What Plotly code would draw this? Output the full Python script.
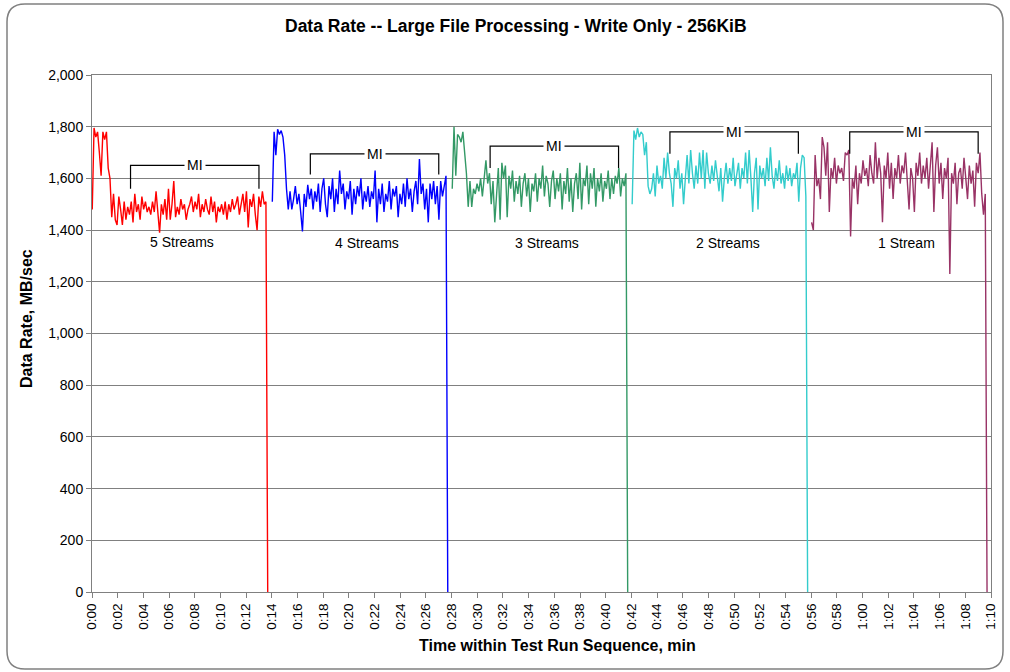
import plotly.graph_objects as go

# ---------------- data ----------------
TICK_LABELS = ["0:%02d" % m for m in range(0, 60, 2)] + ["1:%02d" % m for m in range(0, 12, 2)]
TICK_VALUES = list(range(0, 72, 2))

SERIES_NAMES = ["5 Streams", "4 Streams", "3 Streams", "2 Streams", "1 Stream"]
SERIES_COLORS = ["#FF0000", "#0000FF", "#339966", "#33CCCC", "#993366"]
SERIES_START = [0.02, 14.04, 28.05, 42.06, 56.03]   # minutes
SAMPLE_STEP = 0.138                                 # minutes between samples

rate_5 = [1480, 1795, 1760, 1780, 1700, 1610, 1780, 1750, 1780, 1640,
          1600, 1450, 1540, 1440, 1420, 1530, 1480, 1420, 1510, 1440,
          1490, 1460, 1510, 1430, 1540, 1470, 1500, 1440, 1530, 1480,
          1510, 1470, 1490, 1460, 1510, 1470, 1550, 1450, 1390, 1500,
          1460, 1520, 1440, 1560, 1440, 1500, 1590, 1450, 1490, 1460,
          1520, 1480, 1500, 1440, 1480, 1500, 1530, 1470, 1510, 1480,
          1540, 1450, 1500, 1470, 1520, 1480, 1460, 1530, 1470, 1510,
          1430, 1490, 1470, 1500, 1460, 1510, 1440, 1500, 1470, 1520,
          1480, 1500, 1530, 1460, 1510, 1540, 1470, 1550, 1410, 1520,
          1490, 1540, 1460, 1400, 1530, 1490, 1550, 1500, 1510, 0]

rate_4 = [1510, 1780, 1690, 1790, 1770, 1785, 1760, 1690, 1560, 1480,
          1550, 1480, 1520, 1570, 1500, 1540, 1470, 1395, 1540, 1490,
          1575, 1520, 1560, 1480, 1550, 1510, 1580, 1470, 1560, 1600,
          1500, 1450, 1570, 1520, 1600, 1470, 1560, 1500, 1630, 1540,
          1580, 1480, 1550, 1520, 1590, 1460, 1560, 1500, 1570, 1530,
          1600, 1480, 1550, 1510, 1570, 1490, 1550, 1520, 1630, 1430,
          1560, 1500, 1580, 1470, 1540, 1510, 1590, 1480, 1560, 1530,
          1570, 1450, 1540, 1500, 1580, 1490, 1600, 1520, 1560, 1470,
          1550, 1590, 1500, 1675, 1540, 1580, 1480, 1560, 1430, 1580,
          1520, 1590, 1500, 1570, 1440, 1590, 1530, 1570, 1610, 0]

rate_3 = [1560, 1800, 1610, 1770, 1760, 1740, 1780, 1700, 1620, 1490,
          1590, 1490, 1560, 1540, 1580, 1550, 1600, 1530, 1590, 1670,
          1580, 1620, 1500, 1590, 1430, 1550, 1640, 1440, 1660, 1600,
          1650, 1450, 1610, 1560, 1630, 1510, 1590, 1540, 1610, 1490,
          1580, 1620, 1530, 1600, 1470, 1580, 1550, 1620, 1510, 1600,
          1560, 1650, 1530, 1610, 1580, 1490, 1590, 1630, 1520, 1600,
          1550, 1620, 1480, 1590, 1540, 1640, 1510, 1600, 1470, 1580,
          1620, 1520, 1660, 1480, 1600, 1570, 1650, 1500, 1620, 1560,
          1640, 1490, 1600, 1550, 1620, 1510, 1590, 1560, 1630, 1520,
          1600, 1540, 1610, 1580, 1640, 1530, 1600, 1570, 1620, 0]

rate_2 = [1500, 1785, 1750, 1795, 1760, 1780, 1770, 1690, 1740, 1570,
          1540, 1560, 1620, 1530, 1650, 1580, 1610, 1560, 1680, 1600,
          1700, 1620, 1580, 1490, 1640, 1600, 1670, 1560, 1620, 1500,
          1600, 1690, 1580, 1710, 1620, 1560, 1650, 1580, 1700, 1600,
          1710, 1560, 1700, 1620, 1580, 1650, 1590, 1670, 1610, 1550,
          1640, 1510, 1600, 1660, 1580, 1640, 1590, 1680, 1570, 1620,
          1660, 1560, 1640, 1600, 1700, 1580, 1710, 1600, 1470, 1620,
          1680, 1480, 1650, 1600, 1640, 1570, 1680, 1590, 1720, 1610,
          1560, 1640, 1590, 1670, 1580, 1620, 1560, 1650, 1590, 1640,
          1570, 1620, 1600, 1660, 1510, 1640, 1690, 1680, 1530, 0]

rate_1 = [1430, 1400, 1690, 1570, 1600, 1520, 1760, 1720, 1610, 1740,
          1470, 1640, 1600, 1680, 1580, 1650, 1620, 1640, 1590, 1700,
          1690, 1710, 1375, 1600, 1560, 1650, 1500, 1620, 1580, 1670,
          1610, 1640, 1570, 1690, 1620, 1580, 1740, 1600, 1680, 1620,
          1430, 1650, 1600, 1700, 1560, 1660, 1520, 1640, 1600, 1690,
          1580, 1650, 1620, 1700, 1590, 1480, 1640, 1600, 1470, 1660,
          1610, 1700, 1580, 1650, 1600, 1680, 1560, 1640, 1740, 1470,
          1650, 1720, 1580, 1660, 1520, 1640, 1600, 1680, 1230, 1620,
          1580, 1660, 1500, 1620, 1640, 1560, 1680, 1600, 1520, 1650,
          1580, 1630, 1490, 1660, 1620, 1700, 1540, 1460, 1540, 0]

SERIES_VALUES = [rate_5, rate_4, rate_3, rate_2, rate_1]

# Measurement-interval (MI) brackets, per series
MI_START = [3.0, 17.0, 31.0, 45.0, 59.0]
MI_END = [13.0, 27.0, 41.0, 55.0, 69.0]
MI_LEVEL = [1650, 1695, 1725, 1780, 1780]
MI_FOOT = [1560, 1615, 1640, 1695, 1695]

LABEL_X = [7.0, 21.4, 35.4, 49.5, 63.4]
LABEL_Y = [1355, 1352, 1352, 1352, 1350]

FONT = "Liberation Sans, Arial, sans-serif"

# ---------------- figure ----------------
W, H = 1010, 672
L, R, T, B = 92, 991, 75, 592

fig = go.Figure()

for name, color, start, vals in zip(SERIES_NAMES, SERIES_COLORS, SERIES_START, SERIES_VALUES):
    times = [start + i * SAMPLE_STEP for i in range(len(vals))]
    fig.add_trace(go.Scatter(x=times, y=vals, mode="lines", name=name,
                             line=dict(color=color, width=1.4), showlegend=False,
                             hoverinfo="skip"))

# MI brackets
for s, e, lev, foot in zip(MI_START, MI_END, MI_LEVEL, MI_FOOT):
    fig.add_trace(go.Scatter(x=[s, s, e, e], y=[foot, lev, lev, foot], mode="lines",
                             line=dict(color="#000000", width=1.2), showlegend=False,
                             hoverinfo="skip"))
    fig.add_annotation(x=(s + e) / 2, y=lev, text="MI", showarrow=False,
                       xanchor="center", yanchor="middle",
                       font=dict(family=FONT, size=14, color="#000000"),
                       bgcolor="white", borderpad=2, xref="x", yref="y")

for name, lx, ly in zip(SERIES_NAMES, LABEL_X, LABEL_Y):
    fig.add_annotation(x=lx, y=ly, text=name, showarrow=False,
                       xanchor="center", yanchor="middle",
                       font=dict(family=FONT, size=14, color="#000000"))

def px(x):
    return (x - L) / (R - L)

def py(y):
    return (B - y) / (B - T)

# rounded outer border
x0, y0, x1, y1, r = 7, 4, 1003, 669, 18
path = (f"M {px(x0 + r)},{py(y0)} L {px(x1 - r)},{py(y0)} "
        f"Q {px(x1)},{py(y0)} {px(x1)},{py(y0 + r)} L {px(x1)},{py(y1 - r)} "
        f"Q {px(x1)},{py(y1)} {px(x1 - r)},{py(y1)} L {px(x0 + r)},{py(y1)} "
        f"Q {px(x0)},{py(y1)} {px(x0)},{py(y1 - r)} L {px(x0)},{py(y0 + r)} "
        f"Q {px(x0)},{py(y0)} {px(x0 + r)},{py(y0)} Z")
fig.add_shape(type="path", path=path, xref="paper", yref="paper",
              line=dict(color="#808080", width=1.5), layer="below")

# titles
fig.add_annotation(x=px(516), y=py(26), xref="paper", yref="paper",
                   xanchor="center", yanchor="middle",
                   text="<b>Data Rate -- Large File Processing - Write Only - 256KiB</b>",
                   showarrow=False, font=dict(family=FONT, size=17.5, color="#000000"))
fig.add_annotation(x=px(557), y=py(645), xref="paper", yref="paper",
                   xanchor="center", yanchor="middle",
                   text="<b>Time within Test Run Sequence, min</b>",
                   showarrow=False, font=dict(family=FONT, size=16, color="#000000"))
fig.add_annotation(x=px(26), y=py(319), xref="paper", yref="paper", textangle=-90,
                   xanchor="center", yanchor="middle",
                   text="<b>Data Rate, MB/sec</b>",
                   showarrow=False, font=dict(family=FONT, size=16, color="#000000"))

fig.update_layout(
    width=W, height=H,
    margin=dict(l=L, r=W - R, t=T, b=H - B, pad=0),
    paper_bgcolor="white", plot_bgcolor="white",
    font=dict(family=FONT, size=14, color="#000000"),
)
fig.update_xaxes(range=[0, 70], tickvals=TICK_VALUES, ticktext=TICK_LABELS,
                 tickangle=-90, ticks="outside", ticklen=5, tickcolor="#808080",
                 showgrid=False, showline=True, linecolor="#808080", linewidth=1,
                 mirror=True, zeroline=False, tickfont=dict(size=13.5))
fig.update_yaxes(range=[0, 2000], dtick=200, tickformat=",d",
                 ticks="outside", ticklen=5, tickcolor="#808080",
                 showgrid=True, gridcolor="#808080", gridwidth=1,
                 showline=True, linecolor="#808080", linewidth=1,
                 mirror=True, zeroline=False, tickfont=dict(size=14))

fig.write_html("out.html", config={"displayModeBar": False},
               post_script="document.body.style.margin='0px';")
